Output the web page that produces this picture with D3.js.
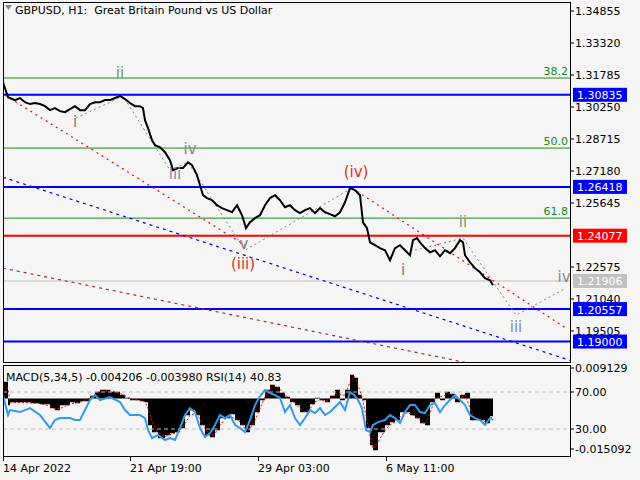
<!DOCTYPE html>
<html><head><meta charset="utf-8">
<script src="https://cdn.jsdelivr.net/npm/d3@7"></script>
<style>body{margin:0;background:#f5f5f5}svg{display:block;font-family:"DejaVu Sans",sans-serif}</style>
</head><body><div id="chart"></div>
<script>
// bar positions (x) and H1 closes
var priceBars = [3,8,15,20,25,30,35,40,45,50,55,60,65,70,75,80,85,90,95,100,105,110,115,120,125,130,135,140,143,145,148,152,155,160,165,170,173,178,183,188,192,197,200,203,207,212,217,222,227,232,237,242,246,250,255,260,265,270,275,280,285,290,295,300,305,310,315,320,325,330,335,340,345,350,355,360,363,367,370,375,380,385,390,395,400,405,410,413,417,420,425,430,435,440,445,450,455,460,463,465,470,475,480,485,490,493]
var prices = [1.3144,1.3072,1.3058,1.3068,1.3048,1.3039,1.3044,1.3039,1.3029,1.3010,1.3020,1.3005,1.3000,1.3015,1.3029,1.3010,1.3010,1.3039,1.3048,1.3048,1.3058,1.3058,1.3068,1.3077,1.3063,1.3044,1.3029,1.3029,1.3020,1.2962,1.2924,1.2866,1.2842,1.2832,1.2808,1.2770,1.2722,1.2732,1.2732,1.2760,1.2746,1.2698,1.2650,1.2602,1.2588,1.2578,1.2554,1.2540,1.2530,1.2520,1.2554,1.2506,1.2444,1.2472,1.2492,1.2506,1.2554,1.2588,1.2602,1.2578,1.2544,1.2554,1.2530,1.2516,1.2530,1.2540,1.2516,1.2540,1.2520,1.2511,1.2501,1.2520,1.2568,1.2636,1.2626,1.2602,1.2472,1.2444,1.2376,1.2362,1.2348,1.2338,1.2290,1.2348,1.2362,1.2338,1.2314,1.2386,1.2396,1.2376,1.2348,1.2328,1.2338,1.2309,1.2338,1.2324,1.2348,1.2386,1.2376,1.2314,1.2280,1.2252,1.2232,1.2204,1.2194,1.2170]

var indBars = [3,8,10,20,30,40,50,55,60,70,75,80,90,95,100,110,120,125,130,140,145,148,152,158,165,170,175,180,185,190,195,200,205,210,215,220,225,230,235,240,245,250,255,260,265,270,275,280,285,290,295,300,305,310,315,320,325,330,335,340,345,350,354,358,362,366,370,373,378,385,390,395,400,405,410,415,420,425,430,435,440,445,450,455,460,465,470,475,480,485,490,493]
var macdHist = [0.0050,-0.0020,-0.0011,-0.0011,-0.0014,-0.0017,-0.0029,-0.0035,-0.0020,-0.0011,-0.0014,-0.0008,0.0008,0.0020,0.0026,0.0020,0.0011,0.0002,-0.0005,-0.0008,-0.0011,-0.0080,-0.0101,-0.0119,-0.0110,-0.0104,-0.0101,-0.0089,-0.0050,-0.0035,-0.0050,-0.0080,-0.0110,-0.0116,-0.0095,-0.0059,-0.0059,-0.0047,-0.0065,-0.0080,-0.0101,-0.0080,-0.0041,-0.0005,0.0026,0.0041,0.0035,0.0017,0.0005,-0.0011,-0.0020,-0.0041,-0.0041,-0.0017,0.0002,-0.0005,-0.0011,0.0008,0.0026,-0.0005,0.0026,0.0071,0.0062,0.0011,-0.0005,-0.0089,-0.0140,-0.0155,-0.0101,-0.0080,-0.0071,-0.0065,-0.0041,-0.0041,-0.0050,-0.0059,-0.0074,-0.0080,-0.0011,0.0017,-0.0005,0.0020,0.0014,-0.0011,0.0011,0.0017,-0.0065,-0.0065,-0.0065,-0.0074,-0.0053,-0.0047]
var macdSignal = [0.0040,0.0030,-0.0011,-0.0012,-0.0012,-0.0015,-0.0022,-0.0030,-0.0030,-0.0017,-0.0013,-0.0011,0.0002,0.0012,0.0022,0.0023,0.0016,0.0008,0.0000,-0.0006,-0.0009,-0.0030,-0.0070,-0.0100,-0.0114,-0.0108,-0.0103,-0.0095,-0.0075,-0.0050,-0.0045,-0.0060,-0.0090,-0.0110,-0.0105,-0.0080,-0.0062,-0.0055,-0.0058,-0.0070,-0.0090,-0.0090,-0.0065,-0.0030,0.0005,0.0030,0.0038,0.0028,0.0012,-0.0003,-0.0014,-0.0030,-0.0040,-0.0030,-0.0010,-0.0003,-0.0008,-0.0002,0.0015,0.0012,0.0010,0.0050,0.0068,0.0040,0.0005,-0.0050,-0.0110,-0.0150,-0.0130,-0.0095,-0.0078,-0.0070,-0.0055,-0.0043,-0.0045,-0.0053,-0.0065,-0.0076,-0.0045,0.0000,0.0005,0.0010,0.0016,0.0002,0.0000,0.0012,-0.0030,-0.0060,-0.0065,-0.0070,-0.0062,-0.0052]
var rsi = [66.7,45.1,50.5,48.3,52.6,45.1,31.0,39.7,41.8,41.8,39.7,39.7,61.3,66.7,61.3,64.5,59.1,50.5,45.1,45.1,41.8,28.9,20.2,23.5,18.1,20.2,18.1,31.0,45.1,52.6,48.3,31.0,21.4,25.7,34.3,45.1,41.8,45.1,34.3,31.0,26.7,39.7,55.9,65.6,72.1,68.9,66.7,63.5,48.3,55.9,41.8,34.3,41.8,50.5,47.2,52.6,45.1,48.3,53.7,59.1,50.5,69.9,66.7,61.3,52.6,28.9,26.7,34.3,37.5,39.7,45.1,41.8,36.4,48.3,55.9,55.9,48.3,47.2,55.9,58.1,48.3,55.9,61.3,66.7,61.3,55.9,45.1,41.8,39.7,34.3,41.8,39.7]

var priceTicks = [1.34855,1.33320,1.31785,1.30250,1.28715,1.27180,1.25645,1.22575,1.21040,1.19505]
var timeTickBars = [3,130,258,386]
var timeTickLabels = ["14 Apr 2022","21 Apr 19:00","29 Apr 03:00","6 May 11:00"]
var fibLevels = [1.3164,1.2828,1.2492]
var fibLabels = ["38.2","50.0","61.8"]
var hLevels = [1.30835,1.26418,1.24077,1.21906,1.20557,1.19000]
var hColors = ["#0000ff","#0000ff","#ff0000","#c0c0c0","#0000ff","#0000ff"]
var trendLines = [
  {p:[[5,1.3082],[245,1.2362]], c:"#ff0000", d:"2,4", w:1.2},
  {p:[[352,1.2636],[566,1.1964]], c:"#ff0000", d:"2,4", w:1.2},
  {p:[[3,1.2688],[570,1.1810]], c:"#0000ff", d:"3,4", w:1.2},
  {p:[[3,1.2252],[465,1.1800]], c:"#a03030", d:"3,4", w:1.2},
  {p:[[76,1.2972],[123,1.3077],[170,1.2722],[188,1.2760],[245,1.2338],[352,1.2636]], c:"#808080", d:"2,3", w:1},
  {p:[[415,1.2338],[463,1.2396],[516,1.2026],[566,1.2156]], c:"#808080", d:"2,3", w:1}
]
var waveLabels = [
  {t:"ii",b:120,p:1.3164,c:"#7f957f"},{t:"i",b:75,p:1.2930,c:"#a07070"},
  {t:"iv",b:190,p:1.2800,c:"#8a8a8a"},{t:"iii",b:175,p:1.2680,c:"#8a8aa8"},
  {t:"v",b:244,p:1.2345,c:"#808080"},{t:"(iii)",b:243,p:1.2250,c:"#e03030"},
  {t:"(iv)",b:356,p:1.2690,c:"#e03030"},{t:"i",b:403,p:1.2220,c:"#808080"},
  {t:"ii",b:463,p:1.2450,c:"#7f957f"},{t:"iii",b:516,p:1.1948,c:"#8a8aa8"},
  {t:"iv",b:564,p:1.2186,c:"#8a8a8a"}
]

var W = 640, H = 480, L = 3, R = 570
var svg = d3.select("#chart").append("svg").attr("width", W).attr("height", H)
svg.append("rect").attr("width", W).attr("height", H).attr("fill", "#f5f5f5")

var x = d3.scaleLinear().domain([3, 570]).range([L, R])
var y = d3.scaleLinear().domain([1.34855, 1.19505]).range([11, 331])
var yM = d3.scaleLinear().domain([0.009129, -0.015092]).range([368, 449])
var yR = d3.scaleLinear().domain([70, 30]).range([392, 429])

var main = svg.append("g")
main.append("defs").append("clipPath").attr("id", "cm").append("rect").attr("x", L).attr("y", 3).attr("width", R - L).attr("height", 360)
var mg = main.append("g").attr("clip-path", "url(#cm)")

fibLevels.forEach(function(p, i) {
  mg.append("line").attr("x1", L).attr("x2", R).attr("y1", y(p)).attr("y2", y(p)).attr("stroke", "#1a8a1a").attr("stroke-width", 1)
  main.append("text").attr("x", R - 2).attr("y", y(p) - 3).attr("text-anchor", "end").attr("font-size", 11).attr("fill", "#1a8a1a").text(fibLabels[i])
})
hLevels.forEach(function(p, i) {
  mg.append("line").attr("x1", L).attr("x2", R).attr("y1", y(p)).attr("y2", y(p)).attr("stroke", hColors[i]).attr("stroke-width", hColors[i] == "#c0c0c0" ? 1 : 2)
})
var lineT = d3.line().x(function(d) { return x(d[0]) }).y(function(d) { return y(d[1]) })
trendLines.forEach(function(t) {
  mg.append("path").attr("d", lineT(t.p)).attr("fill", "none").attr("stroke", t.c).attr("stroke-width", t.w).attr("stroke-dasharray", t.d)
})
mg.append("path").datum(priceBars).attr("fill", "none").attr("stroke", "#000").attr("stroke-width", 2)
  .attr("d", d3.line().x(function(d) { return x(d) }).y(function(d, i) { return y(prices[i]) }))
waveLabels.forEach(function(w) {
  mg.append("text").attr("x", x(w.b)).attr("y", y(w.p)).attr("text-anchor", "middle").attr("font-size", 15).attr("fill", w.c).text(w.t)
})

// price axis
var ax = svg.append("g")
priceTicks.forEach(function(p) {
  ax.append("line").attr("x1", R).attr("x2", R + 4).attr("y1", y(p)).attr("y2", y(p)).attr("stroke", "#000")
  ax.append("text").attr("x", R + 5).attr("y", y(p) + 4).attr("font-size", 11).attr("fill", "#000").text(p.toFixed(5))
})
hLevels.forEach(function(p, i) {
  ax.append("rect").attr("x", R + 3).attr("y", y(p) - 7).attr("width", 54).attr("height", 14).attr("fill", hColors[i])
  ax.append("text").attr("x", R + 7).attr("y", y(p) + 4.5).attr("font-size", 11).attr("fill", "#fff").text(p.toFixed(5))
})

// indicator panel
var ind = svg.append("g")
ind.append("defs").append("clipPath").attr("id", "ci").append("rect").attr("x", L).attr("y", 366).attr("width", R - L).attr("height", 90)
var ig = ind.append("g").attr("clip-path", "url(#ci)")
ig.append("path").datum(indBars).attr("fill", "#000")
  .attr("d", d3.area().curve(d3.curveStepAfter).x(function(d) { return x(d) }).y0(yM(0)).y1(function(d, i) { return yM(macdHist[i]) }))
;[70, 30].forEach(function(v) {
  ig.append("line").attr("x1", L).attr("x2", R).attr("y1", yR(v)).attr("y2", yR(v)).attr("stroke", "#c0c0c0").attr("stroke-dasharray", "4,3")
})
ig.append("path").datum(indBars).attr("fill", "none").attr("stroke", "#ff0000").attr("stroke-width", 1).attr("stroke-dasharray", "2,2")
  .attr("d", d3.line().x(function(d) { return x(d) }).y(function(d, i) { return yM(macdSignal[i]) }))
ig.append("path").datum(indBars).attr("fill", "none").attr("stroke", "#3399ee").attr("stroke-width", 2)
  .attr("d", d3.line().x(function(d) { return x(d) }).y(function(d, i) { return yR(rsi[i]) }))
ind.append("text").attr("x", 6).attr("y", 381).attr("font-size", 11).attr("fill", "#000").text("MACD(5,34,5) -0.004206 -0.003980 RSI(14) 40.83")
var indTicks = [[yM(0.009129), "0.009129"], [yR(70), "70.00"], [yR(30), "30.00"], [yM(-0.015092), "-0.015092"]]
indTicks.forEach(function(t) {
  ind.append("line").attr("x1", R).attr("x2", R + 4).attr("y1", t[0]).attr("y2", t[0]).attr("stroke", "#000")
  ind.append("text").attr("x", R + 5).attr("y", t[0] + 4).attr("font-size", 11).attr("fill", "#000").text(t[1])
})

// frames
svg.append("rect").attr("x", L + 0.5).attr("y", 2.5).attr("width", R - L).attr("height", 360).attr("fill", "none").attr("stroke", "#000")
svg.append("rect").attr("x", L + 0.5).attr("y", 365.5).attr("width", R - L).attr("height", 91).attr("fill", "none").attr("stroke", "#000")

// time axis
timeTickBars.forEach(function(b, i) {
  svg.append("line").attr("x1", x(b) + 0.5).attr("x2", x(b) + 0.5).attr("y1", 457).attr("y2", 461).attr("stroke", "#000")
  svg.append("text").attr("x", x(b)).attr("y", 472).attr("font-size", 11).attr("fill", "#000").text(timeTickLabels[i])
})

// title
svg.append("path").attr("d", "M5,5 L12,5 L8.5,10 Z").attr("fill", "#888")
svg.append("text").attr("x", 15).attr("y", 14).attr("font-size", 11).attr("fill", "#000").attr("xml:space", "preserve").text("GBPUSD, H1:  Great Britain Pound vs US Dollar")
</script></body></html>
